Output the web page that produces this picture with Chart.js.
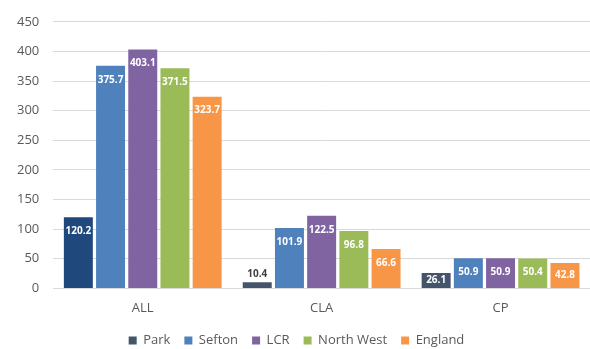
<!DOCTYPE html>
<html>
<head>
<meta charset="utf-8">
<script src="https://cdn.jsdelivr.net/npm/chart.js@4/dist/chart.umd.min.js"></script>
<style>
  html, body { margin: 0; padding: 0; background: #ffffff; }
  #wrap { width: 590px; height: 349px; position: relative; }
</style>
</head>
<body>
<div id="wrap"><canvas id="rateChart"></canvas></div>
<script>
// Rates per 10,000 children by area
const categories = ['ALL', 'CLA', 'CP'];
const parkValues = [120.2, 10.4, 26.1];
const seftonValues = [375.7, 101.9, 50.9];
const lcrValues = [403.1, 122.5, 50.9];
const northWestValues = [371.5, 96.8, 50.4];
const englandValues = [323.7, 66.6, 42.8];
const yTicks = [0, 50, 100, 150, 200, 250, 300, 350, 400, 450];

// Value labels near the top of each bar; above the bar when it is too short
const barLabels = {
    id: 'barLabels',
    afterDatasetsDraw(chart) {
        const ctx = chart.ctx;
        ctx.save();
        ctx.font = 'bold 10px "Open Sans", sans-serif';
        ctx.textAlign = 'center';
        ctx.textBaseline = 'middle';
        chart.data.datasets.forEach((ds, i) => {
            const meta = chart.getDatasetMeta(i);
            meta.data.forEach((bar, j) => {
                const h = bar.base - bar.y;
                const text = ds.data[j].toFixed(1);
                if (h < 12) {
                    ctx.fillStyle = '#404040';
                    ctx.fillText(text, bar.x, bar.y - 8);
                } else {
                    ctx.fillStyle = '#ffffff';
                    ctx.fillText(text, bar.x, Math.min(bar.y + 14, (bar.y + bar.base) / 2));
                }
            });
        });
        ctx.restore();
    }
};

const ctx = document.getElementById('rateChart').getContext('2d');
new Chart(ctx, {
    type: 'bar',
    data: {
        labels: categories,
        datasets: [
            { label: 'Park', data: parkValues, backgroundColor: ['#1f497d', '#44546a', '#44546a'] },
            { label: 'Sefton', data: seftonValues, backgroundColor: '#4f81bd' },
            { label: 'LCR', data: lcrValues, backgroundColor: '#8064a2' },
            { label: 'North West', data: northWestValues, backgroundColor: '#9bbb59' },
            { label: 'England', data: englandValues, backgroundColor: '#f79646' }
        ]
    },
    options: {
        responsive: true,
        maintainAspectRatio: false,
        animation: false,
        datasets: {
            bar: { categoryPercentage: 0.9, barPercentage: 0.9 }
        },
        layout: { padding: { top: 10, right: 0, left: 3, bottom: -8 } },
        plugins: {
            legend: {
                position: 'bottom',
                labels: {
                    boxWidth: 8,
                    boxHeight: 8,
                    color: '#595959',
                    font: { size: 13, family: '"Open Sans", sans-serif' },
                    padding: 14,
                    generateLabels(chart) {
                        const colors = ['#44546a', '#4f81bd', '#8064a2', '#9bbb59', '#f79646'];
                        return chart.data.datasets.map((ds, i) => ({
                            text: ds.label,
                            fillStyle: colors[i],
                            strokeStyle: colors[i],
                            lineWidth: 0,
                            fontColor: '#595959',
                            datasetIndex: i
                        }));
                    }
                }
            },
            tooltip: { enabled: false }
        },
        scales: {
            x: {
                grid: { display: false },
                border: { color: '#d9d9d9' },
                ticks: { color: '#595959', font: { size: 13, family: '"Open Sans", sans-serif' }, padding: 4 }
            },
            y: {
                min: 0,
                max: 450,
                afterBuildTicks(axis) {
                    axis.ticks = yTicks.map(v => ({ value: v }));
                },
                grid: { color: '#d9d9d9', drawTicks: false },
                border: { display: false },
                ticks: { color: '#595959', font: { size: 13, family: '"Open Sans", sans-serif' }, padding: 14 }
            }
        }
    },
    plugins: [barLabels]
});
</script>
</body>
</html>
